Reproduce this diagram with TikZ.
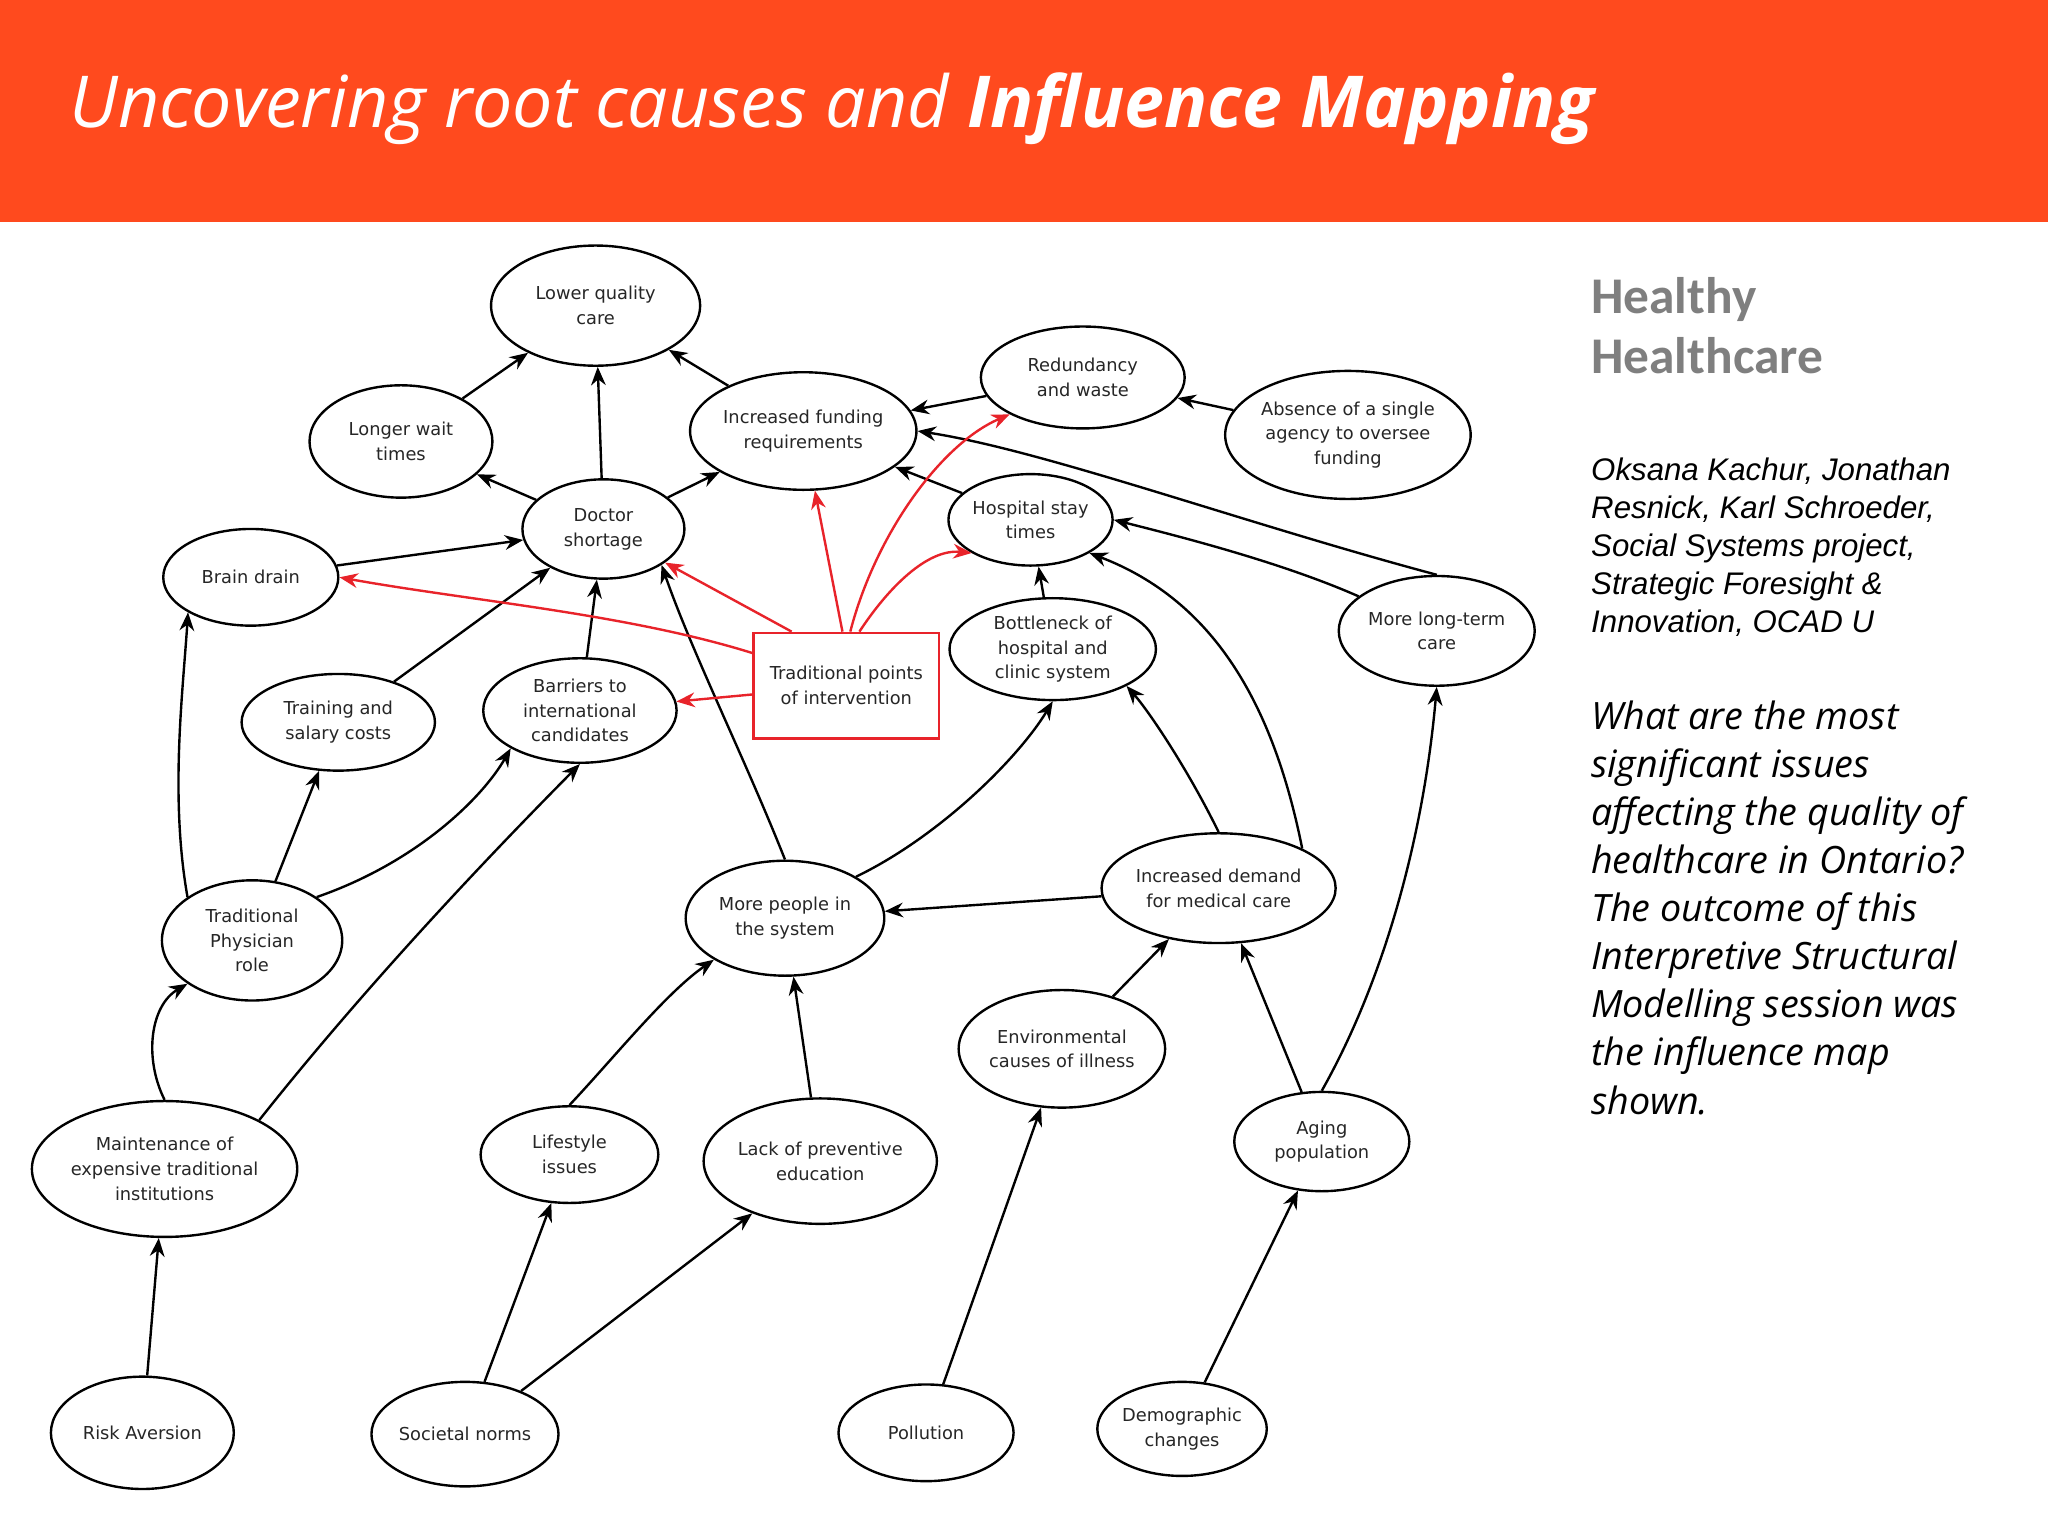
\documentclass[tikz,border=0pt]{standalone}
\usepackage{fontspec}
\setmainfont{DejaVu Sans}
\newfontfamily\osans{Open Sans}
\newfontfamily\lsans{Liberation Sans}
\newfontfamily\carl{Carlito}
\usetikzlibrary{shapes.geometric,arrows.meta}
\definecolor{bar}{HTML}{FF4A1E}
\definecolor{gry}{HTML}{7F7F7F}
\definecolor{rd}{HTML}{E8232A}
\begin{document}
\begin{tikzpicture}[x=0.025cm,y=-0.025cm,
 el/.style 2 args={ellipse,draw,line width=1.3pt,inner sep=0pt,minimum width=#1*0.05cm,minimum height=#2*0.05cm,align=center,font=\fontsize{9.7}{13.5}\selectfont,text=black!85},
 ar/.style={line width=1.3pt,-{Stealth[length=10pt,width=8pt]}},
 rar/.style={ar,draw=rd,-{Stealth[length=10pt,width=8pt,color=rd]}}]
\useasboundingbox (0,0) rectangle (1568,1176);
\fill[white] (0,0) rectangle (1568,1176);
\fill[bar] (0,0) rectangle (1568,170);
\node[anchor=base west,text=white,inner sep=0,font=\osans\fontsize{39}{45}\selectfont\itshape] (title) at (53,98) {Uncovering root causes and \textbf{Influence Mapping}};
\node[anchor=north west,text=gry,inner sep=0,align=left,font=\carl\bfseries\fontsize{28}{33}\selectfont] (hh) at (1218,212) {Healthy\\Healthcare};
\node[anchor=north west,inner sep=0,align=left,font=\lsans\itshape\fontsize{17}{20.7}\selectfont] (au) at (1218,350) {Oksana Kachur, Jonathan\\Resnick, Karl Schroeder,\\Social Systems project,\\Strategic Foresight \&\\Innovation, OCAD U};
\node[anchor=north west,inner sep=0,align=left,font=\osans\itshape\fontsize{20.5}{26.2}\selectfont] (q) at (1218,536) {What are the most\\significant issues\\affecting the quality of\\healthcare in Ontario?\\The outcome of this\\Interpretive Structural\\Modelling session was\\the influence map\\shown.};

\node[el={80}{46}] (lq) at (456,234) {Lower quality\\care};
\node[el={70}{43}] (lw) at (307,338) {Longer wait\\times};
\node[el={86}{45}] (if) at (615,330) {Increased funding\\requirements};
\node[el={78}{39}] (rw) at (829,289) {Redundancy\\and waste};
\node[el={82}{49}] (ab) at (1032,333) {Absence of a single\\agency to oversee\\funding};
\node[el={62}{38}] (ds) at (462,405) {Doctor\\shortage};
\node[el={62}{35}] (hs) at (789,398) {Hospital stay\\times};
\node[el={67}{37}] (bd) at (192,442) {Brain drain};
\node[el={75}{42}] (ml) at (1100,483) {More long-term\\care};
\node[el={79}{39}] (bo) at (806,497) {Bottleneck of\\hospital and\\clinic system};
\node[draw=rd,line width=1.3pt,minimum width=142*0.025cm,minimum height=81*0.025cm,inner sep=0,align=center,font=\fontsize{9.7}{13.5}\selectfont,text=black!85] (tp) at (648,525) {Traditional points\\of intervention};
\node[el={74}{37}] (ts) at (259,553) {Training and\\salary costs};
\node[el={74}{40}] (bi) at (444,544) {Barriers to\\international\\candidates};
\node[el={76}{44}] (mp) at (601,703) {More people in\\the system};
\node[el={76}{42}] (id) at (933,680) {Increased demand\\for medical care};
\node[el={69}{46}] (tpr) at (193,720) {Traditional\\Physician\\role};
\node[el={79}{45}] (env) at (813,803) {Environmental\\causes of illness};
\node[el={86}{52}] (mt) at (126,895) {Maintenance of\\expensive traditional\\institutions};
\node[el={68}{37}] (li) at (436,884) {Lifestyle\\issues};
\node[el={80}{48}] (lp) at (628,889) {Lack of preventive\\education};
\node[el={67}{38}] (ag) at (1012,874) {Aging\\population};
\node[el={70}{43}] (ra) at (109,1097) {Risk Aversion};
\node[el={68}{40}] (sn) at (356,1098) {Societal norms};
\node[el={67}{37}] (po) at (709,1097) {Pollution};
\node[el={60}{36}] (dc) at (905,1094) {Demographic\\changes};

\draw[ar] (lw) -- (lq);
\draw[ar] (ds) -- (lq);
\draw[ar] (if) -- (lq);
\draw[ar] (ds) -- (lw);
\draw[ar] (ds) -- (if);
\draw[ar] (rw) -- (if);
\draw[ar] (ab) -- (rw);
\draw[ar] (hs) -- (if);
\draw[ar] (ml.north) .. controls (950,400) and (800,345) .. (if.east);
\draw[ar] (ml) .. controls (980,430) and (900,410) .. (hs.east);
\draw[ar] (id.north east) .. controls (975,540) and (930,460) .. (hs.south east);
\draw[ar] (bo) -- (hs);
\draw[ar] (bd) -- (ds);
\draw[ar] (ts) -- (ds);
\draw[ar] (bi) -- (ds);
\draw[ar] (mp.north) .. controls (570,580) and (530,500) .. (ds.south east);
\draw[ar] (tpr.north west) .. controls (130,610) and (140,530) .. (bd.south west);
\draw[ar] (tpr) -- (ts);
\draw[ar] (tpr.north east) .. controls (320,660) and (370,610) .. (bi.south west);
\draw[ar] (mt.north) .. controls (110,810) and (115,770) .. (tpr.south west);
\draw[ar] (mt.north east) .. controls (260,780) and (340,690) .. (bi.south);
\draw[ar] (id) -- (mp);
\draw[ar] (mp.north east) .. controls (720,640) and (780,580) .. (bo.south);
\draw[ar] (id.north) .. controls (910,590) and (880,545) .. (bo.south east);
\draw[ar] (env) -- (id);
\draw[ar] (ag) -- (id);
\draw[ar] (ag.north) .. controls (1060,750) and (1090,640) .. (ml.south);
\draw[ar] (li.north) .. controls (470,810) and (510,760) .. (mp.south west);
\draw[ar] (lp) -- (mp);
\draw[ar] (ra) -- (mt);
\draw[ar] (sn) -- (li);
\draw[ar] (sn) -- (lp);
\draw[ar] (po) -- (env);
\draw[ar] (dc) -- (ag);

\draw[rar] (tp.west) ++(0,-25) .. controls (480,470) and (360,460) .. (bd.east);
\draw[rar] (tp) -- (bi);
\draw[rar] (tp.north west) ++(30,0) -- (ds);
\draw[rar] (tp.north) ++(-3,0) -- (if);
\draw[rar] (tp.north) ++(3,0) .. controls (670,410) and (720,340) .. (rw.south west);
\draw[rar] (tp.north) ++(10,0) .. controls (680,450) and (710,420) .. (hs.south west);
\end{tikzpicture}
\end{document}
